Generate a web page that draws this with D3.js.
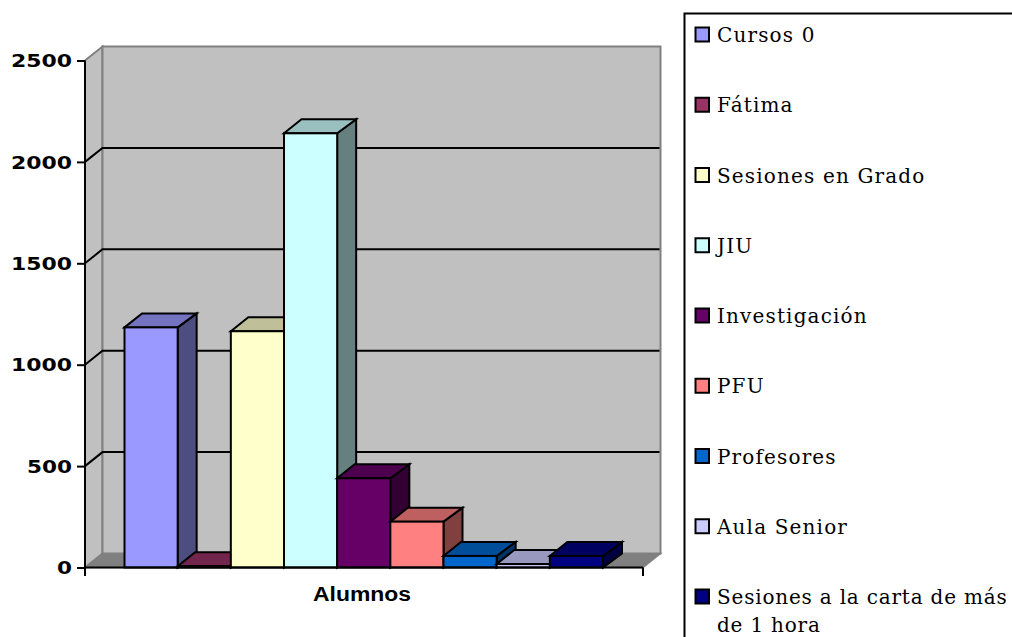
<!DOCTYPE html>
<html><head><meta charset="utf-8">
<script src="https://cdnjs.cloudflare.com/ajax/libs/d3/7.8.5/d3.min.js"></script>
<style>html,body{margin:0;padding:0;background:#fff;overflow:hidden}svg{display:block}</style>
</head><body><script>
const series = ["Cursos 0","Fátima","Sesiones en Grado","JIU","Investigación","PFU","Profesores","Aula Senior","Sesiones a la carta de más de 1 hora"];
const values = [1184,6,1165,2141,440,226,57,17,57];
const colors = ["#9999FF","#993366","#FFFFCC","#CCFFFF","#660066","#FF8080","#0066CC","#CCCCFF","#000080"];
const yTicks = [0,500,1000,1500,2000,2500];
const category = "Alumnos";

const W=1012,H=637;
const svg=d3.select("body").append("svg").attr("width",W).attr("height",H);
const y=d3.scaleLinear().domain([0,2500]).range([567.5,60.5]);
const x=d3.scaleBand().domain(series).range([124.5,603]).padding(0);
const axisL=85, axisR=643, dx=17.5, dy=-14, barDx=19;
const shade=(c,k)=>{const r=d3.rgb(c);return d3.rgb(r.r*k,r.g*k,r.b*k).formatHex();};
const poly=(g,pts,fill,stroke,sw)=>g.append("polygon").attr("points",pts.map(p=>p.join(",")).join(" ")).attr("fill",fill).attr("stroke",stroke).attr("stroke-width",sw).attr("stroke-linejoin","miter");

// walls
const walls=svg.append("g");
poly(walls,[[axisL,y(0)],[axisL+dx,y(0)+dy],[axisR+dx,y(0)+dy],[axisR,y(0)]],"#808080","#808080",1.5);
poly(walls,[[axisL,y(2500)],[axisL+dx,y(2500)+dy],[axisL+dx,y(0)+dy],[axisL,y(0)]],"#C0C0C0","#808080",2);
poly(walls,[[axisL+dx,y(2500)+dy],[axisR+dx,y(2500)+dy],[axisR+dx,y(0)+dy],[axisL+dx,y(0)+dy]],"#C0C0C0","#808080",2);

// gridlines
const gridTicks=yTicks.filter(v=>v>0&&v<2500);
const grid=svg.append("g").attr("stroke","#000").attr("stroke-width",2).attr("fill","none");
grid.selectAll("path").data(gridTicks).join("path")
  .attr("d",v=>`M${axisL},${y(v)}L${axisL+dx},${y(v)+dy}L${axisR+dx-1},${y(v)+dy}`);

// axes
const yAxis=svg.append("g").attr("transform",`translate(${axisL},0)`)
  .call(d3.axisLeft(y).tickValues(yTicks).tickFormat(d3.format("d")).tickSize(8).tickPadding(5));
yAxis.select(".domain").attr("d",`M0,${y(2500)}V576`).attr("stroke","#000").attr("stroke-width",2);
yAxis.selectAll(".tick line").attr("stroke","#000").attr("stroke-width",2);
yAxis.selectAll("text").attr("font-family","DejaVu Sans").attr("font-weight","bold").attr("font-size",18.5).attr("fill","#000")
  .attr("dy","0.33em").attr("dx",0)
  .attr("textLength",function(d){return d===0?15:d<1000?45:61;}).attr("lengthAdjust","spacingAndGlyphs");

// bars
const bars=svg.append("g");
series.forEach((s,i)=>{
  const g=bars.append("g");
  const x0=x(s),x1=x0+x.bandwidth(),yt=y(values[i]),yb=y(0),c=colors[i];
  poly(g,[[x1,yt],[x1+barDx,yt+dy],[x1+barDx,yb+dy],[x1,yb]],shade(c,0.5),"#000",2);
  poly(g,[[x0,yt],[x0+dx,yt+dy],[x1+barDx,yt+dy],[x1,yt]],shade(c,0.75),"#000",2);
  g.append("rect").attr("x",x0).attr("y",yt).attr("width",x.bandwidth()).attr("height",yb-yt).attr("fill",c).attr("stroke","#000").attr("stroke-width",2);
});

// bottom axis
const xAxis=svg.append("g").attr("stroke","#000").attr("stroke-width",2).attr("fill","none");
xAxis.append("path").attr("d",`M${axisL},${y(0)}H${axisR}M${axisR},${y(0)}V576`);
svg.append("text").attr("x",362).attr("y",601).attr("text-anchor","middle").attr("font-family","Liberation Sans").attr("font-weight","bold").attr("font-size",20).attr("fill","#000")
  .attr("textLength",98).attr("lengthAdjust","spacingAndGlyphs").text(category);

// legend
svg.append("rect").attr("x",684.5).attr("y",13.5).attr("width",340).attr("height",640).attr("fill","#fff").attr("stroke","#000").attr("stroke-width",2);
const ly=d3.scalePoint().domain(series).range([35,597]);
const lg=svg.append("g").selectAll("g").data(series).join("g").attr("transform",d=>`translate(0,${ly(d)})`);
lg.append("rect").attr("x",695.5).attr("y",-7.5).attr("width",13.5).attr("height",14).attr("fill",(d,i)=>colors[i]).attr("stroke","#000").attr("stroke-width",2);
const lt=lg.append("text").attr("font-family","DejaVu Serif").attr("font-size",20).attr("fill","#000");
lt.each(function(d){
  const t=d3.select(this);
  const lines=d.length>30?["Sesiones a la carta de más","de 1 hora"]:[d];
  t.attr("letter-spacing",lines.length>1?0.8:1.15);
  lines.forEach((l,i)=>t.append("tspan").attr("x",717).attr("y",7+i*28).text(l));
});
</script></body></html>
